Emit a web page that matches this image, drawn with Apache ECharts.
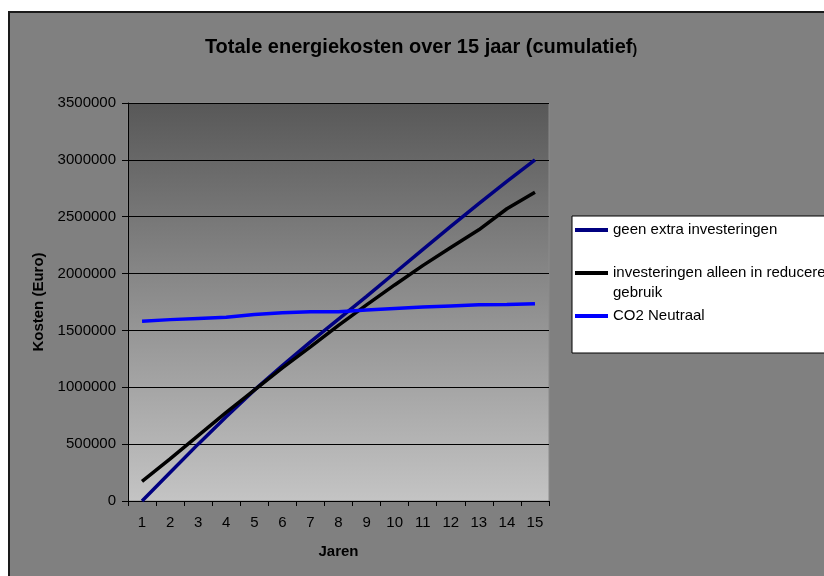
<!DOCTYPE html>
<html>
<head>
<meta charset="utf-8">
<script src="https://cdn.jsdelivr.net/npm/echarts@6/dist/echarts.min.js"></script>
<style>
  html, body { margin: 0; padding: 0; background: #ffffff; }
  #chart { width: 824px; height: 576px; }
</style>
</head>
<body>
<div id="chart"></div>
<script>
// Years on the category axis
var years = ['1', '2', '3', '4', '5', '6', '7', '8', '9', '10', '11', '12', '13', '14', '15'];

// Cumulative energy costs (Euro) per scenario
var geenExtra = [0, 250000, 500000, 740000, 975000, 1190000, 1400000, 1600000, 1800000, 2005000, 2210000, 2415000, 2615000, 2810000, 3000000];
var reducerenGebruik = [173000, 370000, 575000, 780000, 975000, 1170000, 1355000, 1545000, 1725000, 1900000, 2070000, 2230000, 2385000, 2570000, 2715000];
var co2Neutraal = [1580000, 1595000, 1605000, 1615000, 1640000, 1655000, 1665000, 1665000, 1680000, 1693000, 1705000, 1715000, 1725000, 1728000, 1735000];

var seriesNames = ['geen extra investeringen', 'investeringen alleen in reduceren gebruik', 'CO2 Neutraal'];
var seriesColors = ['#000080', '#000000', '#0000ff'];

var FONT = '"Liberation Sans", Arial, sans-serif';

var chart = echarts.init(document.getElementById('chart'), null, { renderer: 'canvas' });

function lineSeries(i, values) {
  return {
    name: seriesNames[i],
    type: 'line',
    data: values,
    showSymbol: false,
    symbol: 'none',
    lineStyle: { color: seriesColors[i], width: 3.5 },
    itemStyle: { color: seriesColors[i] },
    emphasis: { disabled: true },
    animation: false
  };
}

chart.setOption({
  animation: false,
  backgroundColor: '#ffffff',
  graphic: [
    {
      type: 'rect',
      z: -10,
      shape: { x: 9, y: 12, width: 900, height: 700 },
      style: { fill: '#808080', stroke: '#1a1a1a', lineWidth: 2 }
    },
    {
      type: 'rect',
      z: 5,
      shape: { x: 572, y: 216, width: 320, height: 137 },
      style: { fill: '#ffffff', stroke: '#000000', lineWidth: 1 }
    }
  ],
  title: {
    text: 'Totale energiekosten over 15 jaar (cumulatief{s|)}',
    left: 416,
    top: 32,
    textAlign: 'center',
    textStyle: {
      fontFamily: FONT,
      fontSize: 20,
      fontWeight: 'bold',
      color: '#000000',
      rich: {
        s: { fontFamily: FONT, fontSize: 14, fontWeight: 'bold', color: '#000000', verticalAlign: 'bottom' }
      }
    }
  },
  legend: {
    orient: 'vertical',
    left: 575,
    top: 220,
    z: 10,
    icon: 'rect',
    itemWidth: 33,
    itemHeight: 4,
    itemGap: 3,
    padding: 0,
    selectedMode: false,
    textStyle: { fontFamily: FONT, fontSize: 15, color: '#000000', lineHeight: 20 },
    data: seriesNames,
    formatter: function (name) {
      if (name === seriesNames[1]) {
        // a leading empty line keeps the first text line level with the key
        return '\ninvesteringen alleen in reduceren\ngebruik';
      }
      return name;
    }
  },
  grid: {
    left: 128,
    top: 103,
    right: 275,
    bottom: 75,
    show: true,
    borderColor: '#8a8a8a',
    borderWidth: 1,
    backgroundColor: new echarts.graphic.LinearGradient(0, 0, 0, 1, [
      { offset: 0, color: '#585858' },
      { offset: 1, color: '#c4c4c4' }
    ])
  },
  xAxis: {
    type: 'category',
    data: years,
    boundaryGap: true,
    name: 'Jaren',
    nameLocation: 'middle',
    nameGap: 43,
    nameTextStyle: { fontFamily: FONT, fontSize: 15, fontWeight: 'bold', color: '#000000' },
    axisLine: { lineStyle: { color: '#000000', width: 1 } },
    axisTick: { show: true, length: 5, lineStyle: { color: '#000000' } },
    axisLabel: { fontFamily: FONT, fontSize: 15, color: '#000000', margin: 14 },
    splitLine: { show: false }
  },
  yAxis: {
    type: 'value',
    min: 0,
    max: 3500000,
    interval: 500000,
    name: 'Kosten (Euro)',
    nameLocation: 'middle',
    nameGap: 71,
    nameRotate: 90,
    nameTextStyle: { fontFamily: FONT, fontSize: 15, fontWeight: 'bold', color: '#000000' },
    axisLine: { show: true, lineStyle: { color: '#000000', width: 1 } },
    axisTick: { show: true, length: 6, lineStyle: { color: '#000000' } },
    axisLabel: {
      fontFamily: FONT, fontSize: 15, color: '#000000', margin: 12,
      formatter: function (v) { return String(v); }
    },
    splitLine: { show: true, lineStyle: { color: '#000000', width: 1 } }
  },
  tooltip: { show: false },
  series: [
    lineSeries(0, geenExtra),
    lineSeries(1, reducerenGebruik),
    lineSeries(2, co2Neutraal)
  ]
});
</script>
</body>
</html>
